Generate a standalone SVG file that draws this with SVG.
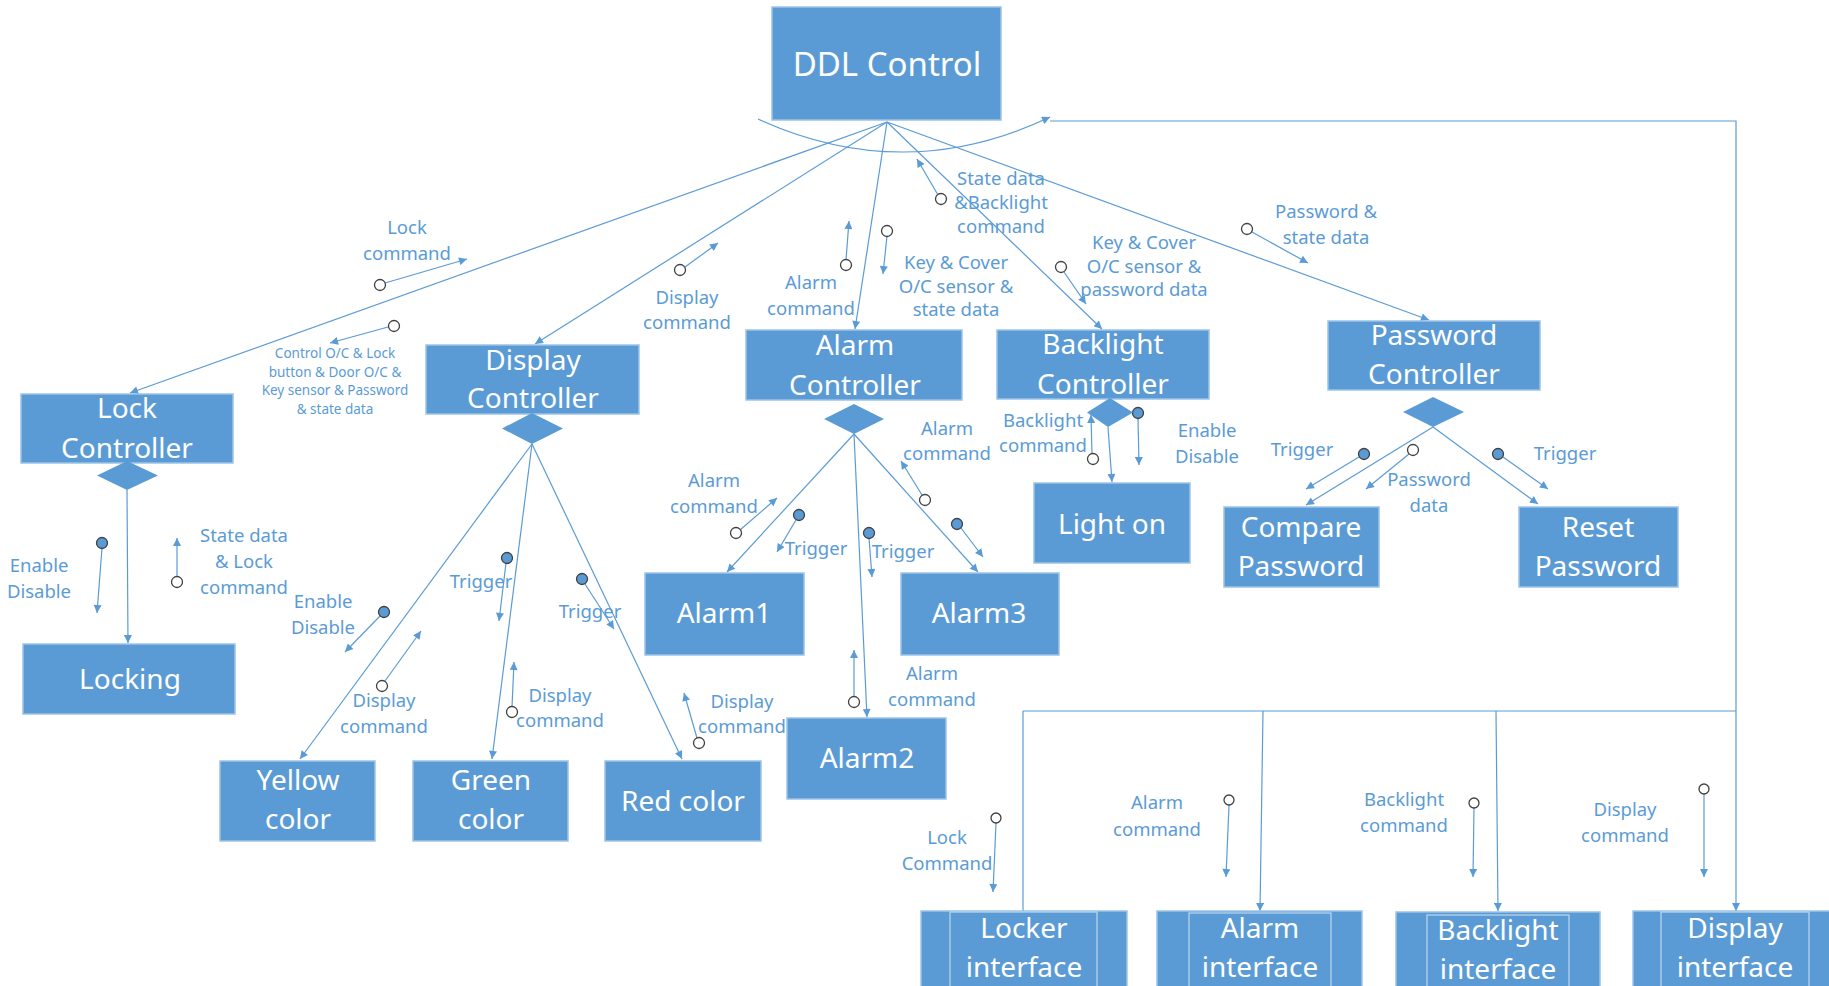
<svg xmlns="http://www.w3.org/2000/svg" width="1829" height="986" viewBox="0 0 1829 986">
<style>
.box{fill:#5B9BD5;stroke:#9DC3E6;stroke-width:1.5}
.dia{fill:#5B9BD5;stroke:none}
.bt{font-family:"Noto Sans","Open Sans",sans-serif;font-size:28px;fill:#fff;text-anchor:middle}
.lb{font-family:"Noto Sans","Open Sans",sans-serif;font-size:18.5px;fill:#5B9BD5;text-anchor:middle}
.sm{font-family:"Noto Sans","Open Sans",sans-serif;font-size:13.5px;fill:#5B9BD5;text-anchor:middle}
.ln{fill:none;stroke:#5B9BD5;stroke-width:1.2}
.ar{fill:none;stroke:#5B9BD5;stroke-width:1.2;marker-end:url(#ah)}
.oc{fill:#fff;stroke:#404040;stroke-width:1.3}
.fc{fill:#5B9BD5;stroke:#404040;stroke-width:1.3}
.inner{fill:none;stroke:#BDD7EE;stroke-width:1.2}
</style>
<defs>
<marker id="ah" viewBox="0 0 10 10" refX="10" refY="5" markerWidth="9" markerHeight="8" orient="auto" markerUnits="userSpaceOnUse">
<path d="M0,0 L10,5 L0,10 z" fill="#5B9BD5"/>
</marker>
</defs>
<rect width="1829" height="986" fill="#fff"/>

<g id="connectors">
<!-- from DDL hub -->
<line class="ar" x1="887" y1="122" x2="130" y2="393"/>
<line class="ar" x1="887" y1="122" x2="535" y2="344"/>
<line class="ar" x1="887" y1="122" x2="855" y2="329"/>
<line class="ar" x1="887" y1="122" x2="1102" y2="329"/>
<line class="ar" x1="887" y1="122" x2="1429" y2="320"/>
<path class="ar" d="M758,119 Q905,186 1050,117"/>
<polyline class="ln" points="1050,121 1736,121 1736,700"/>
<line class="ar" x1="1736" y1="700" x2="1736" y2="911"/>
<line class="ln" x1="1023" y1="711" x2="1736" y2="711"/>
<line class="ln" x1="1023" y1="711" x2="1023" y2="911"/>
<line class="ar" x1="1263" y1="711" x2="1260" y2="911"/>
<line class="ar" x1="1496" y1="711" x2="1498" y2="911"/>

<!-- lock controller -->
<line class="ar" x1="127" y1="490" x2="128" y2="643"/>
<!-- display controller -->
<line class="ar" x1="532" y1="444" x2="300" y2="759"/>
<line class="ar" x1="532" y1="444" x2="492" y2="759"/>
<line class="ar" x1="532" y1="444" x2="682" y2="759"/>
<!-- alarm controller -->
<line class="ar" x1="854" y1="434" x2="727" y2="572"/>
<line class="ar" x1="854" y1="434" x2="867" y2="717"/>
<line class="ar" x1="854" y1="434" x2="978" y2="572"/>
<!-- backlight controller -->
<line class="ar" x1="1108" y1="427" x2="1112" y2="482"/>
<!-- password controller -->
<line class="ar" x1="1433" y1="427" x2="1306" y2="505"/>
<line class="ar" x1="1433" y1="427" x2="1538" y2="504"/>

<!-- flow indicators -->
<line class="ar" x1="385" y1="283" x2="467" y2="259"/>
<circle class="oc" cx="380" cy="285" r="5.5"/>
<line class="ar" x1="388" y1="327" x2="330" y2="343"/>
<circle class="oc" cx="394" cy="326" r="5.5"/>
<line class="ar" x1="685" y1="267" x2="718" y2="243"/>
<circle class="oc" cx="680" cy="270" r="5.5"/>
<line class="ar" x1="846" y1="260" x2="849" y2="221"/>
<circle class="oc" cx="846" cy="265" r="5.5"/>
<line class="ar" x1="887" y1="236" x2="883" y2="274"/>
<circle class="oc" cx="887" cy="231" r="5.5"/>
<line class="ar" x1="938" y1="195" x2="917" y2="159"/>
<circle class="oc" cx="941" cy="199" r="5.5"/>
<line class="ar" x1="1064" y1="272" x2="1086" y2="304"/>
<circle class="oc" cx="1061" cy="267" r="5.5"/>
<line class="ar" x1="1252" y1="232" x2="1308" y2="263"/>
<circle class="oc" cx="1247" cy="229" r="5.5"/>

<line class="ar" x1="102" y1="548" x2="97" y2="613"/>
<circle class="fc" cx="102" cy="543" r="5.5"/>
<line class="ar" x1="177" y1="577" x2="177" y2="538"/>
<circle class="oc" cx="177" cy="582" r="5.5"/>

<line class="ar" x1="380" y1="616" x2="345" y2="652"/>
<circle class="fc" cx="384" cy="612" r="5.5"/>
<line class="ar" x1="385" y1="681" x2="421" y2="631"/>
<circle class="oc" cx="382" cy="686" r="5.5"/>
<line class="ar" x1="506" y1="563" x2="499" y2="621"/>
<circle class="fc" cx="507" cy="558" r="5.5"/>
<line class="ar" x1="512" y1="707" x2="514" y2="662"/>
<circle class="oc" cx="512" cy="712" r="5.5"/>
<line class="ar" x1="585" y1="584" x2="614" y2="629"/>
<circle class="fc" cx="582" cy="579" r="5.5"/>
<line class="ar" x1="697" y1="738" x2="684" y2="693"/>
<circle class="oc" cx="699" cy="743" r="5.5"/>

<line class="ar" x1="740" y1="530" x2="777" y2="498"/>
<circle class="oc" cx="736" cy="533" r="5.5"/>
<line class="ar" x1="796" y1="520" x2="777" y2="552"/>
<circle class="fc" cx="799" cy="515" r="5.5"/>
<line class="ar" x1="869" y1="538" x2="872" y2="577"/>
<circle class="fc" cx="869" cy="533" r="5.5"/>
<line class="ar" x1="922" y1="495" x2="901" y2="461"/>
<circle class="oc" cx="925" cy="500" r="5.5"/>
<line class="ar" x1="961" y1="528" x2="983" y2="557"/>
<circle class="fc" cx="957" cy="524" r="5.5"/>
<line class="ar" x1="854" y1="697" x2="854" y2="650"/>
<circle class="oc" cx="854" cy="702" r="5.5"/>

<line class="ar" x1="1092" y1="454" x2="1091" y2="415"/>
<circle class="oc" cx="1093" cy="459" r="5.5"/>
<line class="ar" x1="1138" y1="418" x2="1139" y2="465"/>
<circle class="fc" cx="1138" cy="413" r="5.5"/>

<line class="ar" x1="1359" y1="457" x2="1306" y2="489"/>
<circle class="fc" cx="1364" cy="454" r="5.5"/>
<line class="ar" x1="1409" y1="454" x2="1366" y2="489"/>
<circle class="oc" cx="1413" cy="450" r="5.5"/>
<line class="ar" x1="1503" y1="457" x2="1548" y2="489"/>
<circle class="fc" cx="1498" cy="454" r="5.5"/>

<line class="ar" x1="996" y1="823" x2="993" y2="892"/>
<circle class="oc" cx="996" cy="818" r="5"/>
<line class="ar" x1="1229" y1="805" x2="1226" y2="877"/>
<circle class="oc" cx="1229" cy="800" r="5"/>
<line class="ar" x1="1474" y1="808" x2="1473" y2="877"/>
<circle class="oc" cx="1474" cy="803" r="5"/>
<line class="ar" x1="1704" y1="794" x2="1704" y2="877"/>
<circle class="oc" cx="1704" cy="789" r="5"/>
</g>

<g id="labels">
<text class="lb" x="407" y="234">Lock</text>
<text class="lb" x="407" y="260">command</text>
<text class="sm" x="335" y="358">Control O/C &amp; Lock</text>
<text class="sm" x="335" y="377">button &amp; Door O/C &amp;</text>
<text class="sm" x="335" y="395">Key sensor &amp; Password</text>
<text class="sm" x="335" y="414">&amp; state data</text>
<text class="lb" x="687" y="304">Display</text>
<text class="lb" x="687" y="329">command</text>
<text class="lb" x="811" y="289">Alarm</text>
<text class="lb" x="811" y="315">command</text>
<text class="lb" x="956" y="269">Key &amp; Cover</text>
<text class="lb" x="956" y="293">O/C sensor &amp;</text>
<text class="lb" x="956" y="316">state data</text>
<text class="lb" x="1001" y="185">State data</text>
<text class="lb" x="1001" y="209">&amp;Backlight</text>
<text class="lb" x="1001" y="233">command</text>
<text class="lb" x="1144" y="249">Key &amp; Cover</text>
<text class="lb" x="1144" y="273">O/C sensor &amp;</text>
<text class="lb" x="1144" y="296">password data</text>
<text class="lb" x="1326" y="218">Password &amp;</text>
<text class="lb" x="1326" y="244">state data</text>

<text class="lb" x="39" y="572">Enable</text>
<text class="lb" x="39" y="598">Disable</text>
<text class="lb" x="244" y="542">State data</text>
<text class="lb" x="244" y="568">&amp; Lock</text>
<text class="lb" x="244" y="594">command</text>

<text class="lb" x="323" y="608">Enable</text>
<text class="lb" x="323" y="634">Disable</text>
<text class="lb" x="384" y="707">Display</text>
<text class="lb" x="384" y="733">command</text>
<text class="lb" x="481" y="588">Trigger</text>
<text class="lb" x="560" y="702">Display</text>
<text class="lb" x="560" y="727">command</text>
<text class="lb" x="590" y="618">Trigger</text>
<text class="lb" x="742" y="708">Display</text>
<text class="lb" x="742" y="733">command</text>

<text class="lb" x="714" y="487">Alarm</text>
<text class="lb" x="714" y="513">command</text>
<text class="lb" x="816" y="555">Trigger</text>
<text class="lb" x="903" y="558">Trigger</text>
<text class="lb" x="947" y="435">Alarm</text>
<text class="lb" x="947" y="460">command</text>
<text class="lb" x="932" y="680">Alarm</text>
<text class="lb" x="932" y="706">command</text>

<text class="lb" x="1043" y="427">Backlight</text>
<text class="lb" x="1043" y="452">command</text>
<text class="lb" x="1207" y="437">Enable</text>
<text class="lb" x="1207" y="463">Disable</text>

<text class="lb" x="1302" y="456">Trigger</text>
<text class="lb" x="1429" y="486">Password</text>
<text class="lb" x="1429" y="512">data</text>
<text class="lb" x="1565" y="460">Trigger</text>

<text class="lb" x="947" y="844">Lock</text>
<text class="lb" x="947" y="870">Command</text>
<text class="lb" x="1157" y="809">Alarm</text>
<text class="lb" x="1157" y="836">command</text>
<text class="lb" x="1404" y="806">Backlight</text>
<text class="lb" x="1404" y="832">command</text>
<text class="lb" x="1625" y="816">Display</text>
<text class="lb" x="1625" y="842">command</text>
</g>

<g id="ddl-control">
<rect class="box" x="772" y="7" width="229" height="113"/>
<text class="bt" x="887" y="76" style="font-size:33px">DDL Control</text>
</g>
<g id="lock-controller">
<rect class="box" x="21" y="394" width="212" height="69"/>
<text class="bt" x="127" y="418">Lock</text>
<text class="bt" x="127" y="458">Controller</text>
<path class="dia" d="M97,475.5 L127,461 L158,475.5 L127,490 z"/>
</g>
<g id="display-controller">
<rect class="box" x="426" y="345" width="213" height="69"/>
<text class="bt" x="533" y="370">Display</text>
<text class="bt" x="533" y="408">Controller</text>
<path class="dia" d="M502,428.5 L532,413 L563,428.5 L532,444 z"/>
</g>
<g id="alarm-controller">
<rect class="box" x="746" y="330" width="216" height="70"/>
<text class="bt" x="855" y="355">Alarm</text>
<text class="bt" x="855" y="395">Controller</text>
<path class="dia" d="M824,419 L854,404 L884,419 L854,434 z"/>
</g>
<g id="backlight-controller">
<rect class="box" x="997" y="330" width="212" height="69"/>
<text class="bt" x="1103" y="354">Backlight</text>
<text class="bt" x="1103" y="394">Controller</text>
<path class="dia" d="M1087,412.5 L1110,398 L1133,412.5 L1108,427 z"/>
</g>
<g id="password-controller">
<rect class="box" x="1328" y="321" width="212" height="69"/>
<text class="bt" x="1434" y="345">Password</text>
<text class="bt" x="1434" y="384">Controller</text>
<path class="dia" d="M1403,412 L1433,397 L1464,412 L1433,427 z"/>
</g>
<g id="locking">
<rect class="box" x="23" y="644" width="212" height="70"/>
<text class="bt" x="130" y="689">Locking</text>
</g>
<g id="yellow-color">
<rect class="box" x="220" y="761" width="155" height="80"/>
<text class="bt" x="298" y="790">Yellow</text>
<text class="bt" x="298" y="829">color</text>
</g>
<g id="green-color">
<rect class="box" x="413" y="761" width="155" height="80"/>
<text class="bt" x="491" y="790">Green</text>
<text class="bt" x="491" y="829">color</text>
</g>
<g id="red-color">
<rect class="box" x="605" y="761" width="156" height="80"/>
<text class="bt" x="683" y="811">Red color</text>
</g>
<g id="alarm1">
<rect class="box" x="645" y="573" width="159" height="82"/>
<text class="bt" x="724" y="623">Alarm1</text>
</g>
<g id="alarm2">
<rect class="box" x="787" y="718" width="159" height="81"/>
<text class="bt" x="867" y="768">Alarm2</text>
</g>
<g id="alarm3">
<rect class="box" x="901" y="573" width="158" height="82"/>
<text class="bt" x="979" y="623">Alarm3</text>
</g>
<g id="light-on">
<rect class="box" x="1034" y="483" width="156" height="80"/>
<text class="bt" x="1112" y="534">Light on</text>
</g>
<g id="compare-password">
<rect class="box" x="1224" y="507" width="155" height="80"/>
<text class="bt" x="1301" y="537">Compare</text>
<text class="bt" x="1301" y="576">Password</text>
</g>
<g id="reset-password">
<rect class="box" x="1519" y="507" width="159" height="80"/>
<text class="bt" x="1598" y="537">Reset</text>
<text class="bt" x="1598" y="576">Password</text>
</g>
<g id="locker-interface">
<rect class="box" x="921" y="911" width="206" height="90"/>
<rect class="inner" x="950" y="912" width="147" height="88"/>
<text class="bt" x="1024" y="938">Locker</text>
<text class="bt" x="1024" y="977">interface</text>
</g>
<g id="alarm-interface">
<rect class="box" x="1157" y="911" width="205" height="90"/>
<rect class="inner" x="1189" y="913" width="142" height="87"/>
<text class="bt" x="1260" y="938">Alarm</text>
<text class="bt" x="1260" y="977">interface</text>
</g>
<g id="backlight-interface">
<rect class="box" x="1396" y="912" width="204" height="90"/>
<rect class="inner" x="1427" y="915" width="142" height="85"/>
<text class="bt" x="1498" y="940">Backlight</text>
<text class="bt" x="1498" y="979">interface</text>
</g>
<g id="display-interface">
<rect class="box" x="1633" y="911" width="205" height="90"/>
<rect class="inner" x="1661" y="912" width="148" height="88"/>
<text class="bt" x="1735" y="938">Display</text>
<text class="bt" x="1735" y="977">interface</text>
</g>
</svg>
